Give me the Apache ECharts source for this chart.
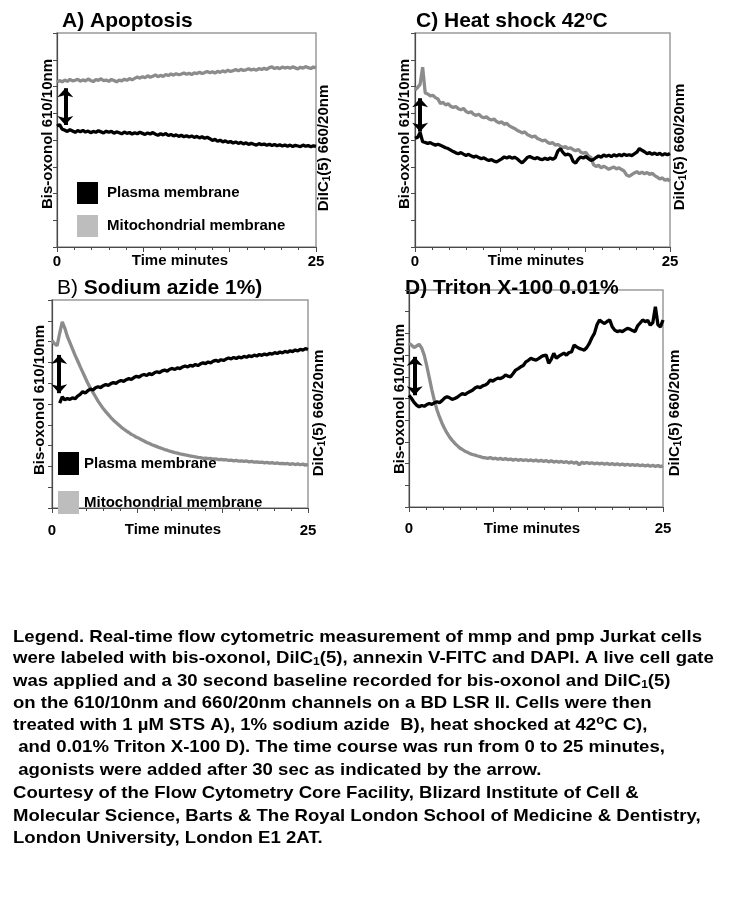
<!DOCTYPE html>
<html>
<head>
<meta charset="utf-8">
<script src="https://cdn.jsdelivr.net/npm/echarts@6/dist/echarts.min.js"></script>
<style>
html,body{margin:0;padding:0;background:#fff;}
#chart{width:736px;height:909px;}
</style>
</head>
<body>
<div id="chart"></div>
<script>
// ---------------- DATA ----------------
const SAMPLE_STEP_MIN = 0.25; // one reading every 15 s, 0..25 min
const xTickLabels = ['0', '25'];

// A) Apoptosis
const apoptosisMito = [
77.0,77.8,77.2,78.0,77.4,78.3,77.6,77.9,78.4,77.5,
78.1,77.6,78.5,77.8,77.3,78.2,77.9,78.6,77.7,78.0,
77.4,78.3,77.8,77.2,78.0,77.6,78.4,77.9,78.7,78.1,
78.8,79.4,78.9,79.6,79.1,80.0,79.3,79.8,80.4,79.6,
80.2,79.7,80.6,80.1,80.9,80.3,81.0,80.5,80.8,81.3,
80.7,81.2,80.6,81.4,81.0,81.7,81.1,81.5,82.0,81.4,
81.9,81.3,82.1,81.6,82.3,81.8,82.6,82.0,82.4,82.9,
82.3,83.0,82.5,82.8,83.3,82.7,83.1,82.6,83.4,82.9,
83.5,83.0,83.8,84.2,83.4,83.9,83.3,84.1,83.6,84.0,
83.5,84.2,83.7,83.2,84.0,83.6,84.3,83.8,83.4,84.1,83.7];
const apoptosisPlasma = [
56.5,57.2,55.0,54.6,54.0,54.8,54.2,53.6,54.4,53.9,
54.5,53.7,54.2,53.4,54.0,53.6,54.3,53.8,53.3,54.1,
53.6,54.0,53.2,53.8,53.4,52.9,53.7,53.1,53.5,52.8,
53.4,52.9,53.6,53.1,52.6,53.3,52.8,53.5,52.7,52.2,
52.9,52.4,53.0,52.1,52.6,51.9,52.4,51.7,52.2,51.5,
52.0,51.4,51.9,51.2,51.7,51.0,51.5,50.8,51.3,50.6,
49.8,50.3,49.4,49.9,49.1,49.6,48.9,49.3,48.6,49.1,
48.4,48.9,48.2,48.7,47.9,48.5,48.0,47.6,48.3,47.8,
48.1,47.5,48.0,47.4,47.9,47.3,47.8,47.2,47.7,47.1,
47.6,47.0,47.5,47.2,46.9,47.6,47.1,47.4,46.8,47.3,47.0];

// C) Heat shock 42 C
const heatMito = [
73.4,74.5,76.0,84.0,72.0,71.5,70.6,70.9,69.8,69.2,
67.0,67.6,66.4,66.9,65.8,65.2,65.7,64.6,64.1,64.8,
63.4,62.7,63.2,62.0,61.5,62.1,60.9,60.4,60.9,59.8,
59.3,59.8,58.6,58.0,58.5,57.3,57.8,56.6,56.0,55.4,
54.6,54.0,53.3,53.8,52.6,52.0,51.4,51.9,50.7,50.2,
49.6,50.0,48.9,48.4,48.8,47.6,47.9,47.1,46.5,46.9,
46.0,46.4,45.5,45.0,45.6,44.3,43.8,44.2,42.6,41.9,
38.5,37.6,38.2,37.0,37.8,37.1,36.3,36.9,37.4,36.5,
37.0,36.2,35.5,33.6,33.0,33.8,34.6,35.2,34.3,35.0,
34.2,34.8,33.9,34.5,33.4,32.6,31.8,32.3,31.2,31.7,30.8];
const heatPlasma = [
50.8,51.2,53.5,49.2,48.9,48.4,48.8,48.1,47.6,48.0,
47.5,47.0,46.4,46.0,45.3,44.6,44.0,43.6,44.1,43.4,
42.8,43.3,42.6,42.0,42.5,41.8,41.2,41.7,40.9,40.4,
40.8,40.1,39.8,40.5,41.2,42.1,41.6,42.2,41.5,41.9,
41.3,40.2,39.3,40.5,41.8,42.3,41.7,41.2,41.8,41.1,
40.8,41.5,40.9,41.6,41.0,41.7,44.8,46.0,44.2,43.0,
43.4,42.8,40.0,39.2,41.0,42.1,41.6,42.3,41.3,40.5,
40.9,41.8,42.6,41.9,43.0,42.4,42.9,42.2,43.1,42.5,
43.2,42.6,43.4,42.8,43.1,42.7,43.5,44.3,46.0,45.2,
44.5,43.6,44.1,43.3,43.9,43.2,43.8,42.9,43.6,43.1,43.7];

// B) Sodium azide 1%
const azideMito = [
80.5,79.0,78.0,84.0,89.5,86.5,82.5,79.5,76.5,73.5,
70.8,68.0,65.3,62.6,60.0,57.6,55.6,53.5,51.4,49.6,
47.8,46.3,44.9,43.5,42.2,41.1,40.0,38.9,38.0,37.1,
36.3,35.4,34.8,34.0,33.5,32.8,32.2,31.5,31.1,30.4,
30.0,29.5,29.0,28.6,28.1,27.8,27.3,27.0,26.6,26.4,
26.0,25.8,25.5,25.3,25.0,24.8,24.6,24.3,24.2,23.9,
24.0,23.7,23.8,23.5,23.6,23.3,23.4,23.1,23.2,22.9,
23.0,22.7,22.9,22.5,22.7,22.4,22.6,22.2,22.4,22.0,
22.2,21.9,22.1,21.7,21.9,21.6,21.8,21.4,21.7,21.3,
21.5,21.2,21.4,21.0,21.3,20.9,21.2,20.8,21.1,20.6,21.0];
const azidePlasma = [
null,null,null,50.4,53.4,52.0,52.6,52.2,53.0,52.5,
53.8,54.6,55.9,55.3,56.4,57.2,56.7,57.8,58.3,57.9,
58.8,59.4,58.9,59.8,60.3,59.9,60.8,61.3,60.9,61.7,
62.2,61.8,62.7,63.3,62.9,63.8,64.2,63.7,64.6,64.1,
65.0,65.5,65.1,65.9,66.3,65.8,66.7,67.1,66.6,67.4,
67.0,67.8,68.3,67.8,68.6,68.2,69.0,68.5,69.3,69.8,
69.4,70.2,69.8,70.6,71.0,70.5,71.3,70.9,71.6,72.1,
71.7,72.4,71.9,72.6,72.2,72.9,72.5,73.2,72.8,73.5,
73.1,73.8,73.4,74.0,73.6,74.3,74.0,74.7,74.3,75.0,
74.6,75.3,74.9,75.6,75.2,76.0,75.5,76.3,75.9,76.6,76.2];

// D) Triton X-100 0.01%
const tritonMito = [
75.4,74.6,73.5,74.2,75.0,73.2,70.0,65.0,59.5,54.0,
49.0,44.8,41.5,38.6,36.2,34.0,32.2,30.7,29.4,28.3,
27.2,26.5,25.7,25.2,24.6,24.2,23.9,23.5,23.2,22.8,
22.7,22.4,22.8,22.2,22.5,22.0,22.4,21.9,22.3,21.8,
22.1,21.6,22.0,21.5,21.9,21.4,21.8,21.3,21.7,21.2,
21.6,21.1,21.5,21.0,21.4,20.8,21.3,20.7,21.1,20.6,
21.0,20.5,20.9,20.3,20.8,20.2,20.7,19.4,20.6,20.1,
20.5,20.0,20.4,19.9,20.3,19.8,20.2,19.7,20.1,19.6,
20.0,19.5,19.9,19.4,19.8,19.3,19.7,19.2,19.6,19.1,
19.5,19.0,19.4,18.9,19.3,18.8,19.2,18.7,19.1,18.6,19.0];
const tritonPlasma = [
51.5,50.0,48.2,46.9,46.2,46.8,46.4,47.2,47.7,47.3,
48.0,48.5,48.1,49.0,50.2,50.8,50.3,49.6,50.0,50.6,
51.5,52.3,51.8,52.6,53.2,53.8,54.8,55.4,55.0,55.8,
56.2,57.0,58.5,58.0,58.8,59.4,59.2,59.8,60.8,60.3,
60.0,61.5,63.1,63.8,64.6,65.2,66.9,67.6,68.5,68.0,
67.7,68.4,69.2,69.8,70.0,66.2,68.0,70.8,68.5,69.5,
70.2,70.9,70.0,71.2,71.5,74.6,73.8,73.1,72.7,72.3,
73.5,75.4,78.0,80.0,84.0,86.2,85.2,84.6,85.5,86.2,
83.1,81.5,80.8,81.2,80.8,81.6,82.3,82.0,81.3,80.8,
83.5,84.8,86.2,85.4,86.0,83.8,85.0,92.3,84.0,83.0,86.2];

// agonist-addition arrows: [time (min), from value, to value]
const arrowA = [0.8, 74.2, 57.0];
const arrowB = [0.7, 73.6, 55.2];
const arrowC = [0.5, 69.5, 53.9];
const arrowD = [0.56, 69.2, 51.5];

const seriesNames = ['Plasma membrane', 'Mitochondrial membrane'];
const panelTitles = ['A) Apoptosis', 'C) Heat shock 42{sup|o}C', '{nb|B)} Sodium azide 1%)', 'D) Triton X-100 0.01%'];
const leftAxisName = 'Bis-oxonol 610/10nm';
const rightAxisName = 'DiIC{sub|1}(5) 660/20nm';
const xAxisName = 'Time minutes';
const captionLines = [
  'Legend. Real-time flow cytometric measurement of mmp and pmp Jurkat cells',
  'were labeled with bis-oxonol, DilC{sub|1}(5), annexin V-FITC and DAPI. A live cell gate',
  'was applied and a 30 second baseline recorded for bis-oxonol and DilC{sub|1}(5)',
  'on the 610/10nm and 660/20nm channels on a BD LSR II. Cells were then',
  'treated with 1 \u00b5M STS A), 1% sodium azide  B), heat shocked at 42{sup|o}C C),',
  ' and 0.01% Triton X-100 D). The time course was run from 0 to 25 minutes,',
  ' agonists were added after 30 sec as indicated by the arrow.',
  'Courtesy of the Flow Cytometry Core Facility, Blizard Institute of Cell &',
  'Molecular Science, Barts & The Royal London School of Medicine & Dentistry,',
  'London University, London E1 2AT.'
];

// ---------------- LAYOUT ----------------
const FONT = '"Liberation Sans", Arial, sans-serif';
const BLACK = '#000000';
const GREY_LINE = '#8c8c8c';
const GREY_LEGEND = '#bdbdbd';

const panels = [
  {grid:{left:57,top:33,width:259,height:214}, mito:apoptosisMito, plasma:apoptosisPlasma, arrow:arrowA, yInt:25, labelGap:7,
   title:{x:62,y:21}, leftName:{x:48,y:134}, rightName:{x:323.5,y:148}, xName:{x:180,y:261}},
  {grid:{left:415,top:33,width:255,height:214}, mito:heatMito, plasma:heatPlasma, arrow:arrowC, yInt:25, labelGap:7,
   title:{x:416,y:21}, leftName:{x:405,y:134}, rightName:{x:680,y:147}, xName:{x:536,y:261}},
  {grid:{left:52,top:300,width:256,height:208}, mito:azideMito, plasma:azidePlasma, arrow:arrowB, yInt:20, labelGap:15,
   title:{x:57,y:288}, leftName:{x:40,y:400}, rightName:{x:318.5,y:413}, xName:{x:173,y:530}},
  {grid:{left:409,top:290,width:254,height:217}, mito:tritonMito, plasma:tritonPlasma, arrow:arrowD, yInt:20, labelGap:14,
   title:{x:405,y:288}, leftName:{x:400,y:399}, rightName:{x:675,y:413}, xName:{x:532,y:529}}
];

const toPairs = arr => arr.map((v, i) => [i * SAMPLE_STEP_MIN, v]);

const richSmall = {
  sub: {fontSize: 10, fontWeight: 'bold', fontFamily: FONT, padding: [7, 0, 0, 0]},
  sup: {fontSize: 12, fontWeight: 'bold', fontFamily: FONT, padding: [0, 0, 9, 0]},
  nb: {fontSize: 21, fontWeight: 'normal', fontFamily: FONT}
};

const grids = [], xAxes = [], yAxes = [], series = [], graphics = [];
panels.forEach((p, k) => {
  grids.push(Object.assign({show: true, borderColor: '#9a9a9a', borderWidth: 1.5, backgroundColor: 'transparent'}, p.grid));
  xAxes.push({
    type: 'value', gridIndex: k, min: 0, max: 25, interval: 25 / 3,
    axisLine: {show: true, onZero: false, lineStyle: {color: '#4a4a4a', width: 1.2}},
    axisTick: {show: true, length: 5, lineStyle: {color: '#4a4a4a'}},
    minorTick: {show: true, splitNumber: 5, length: 3, lineStyle: {color: '#4a4a4a'}},
    splitLine: {show: false},
    axisLabel: {
      margin: p.labelGap, fontSize: 15, fontWeight: 'bold', color: '#000', fontFamily: FONT,
      formatter: v => (Math.abs(v) < 1e-6 ? xTickLabels[0] : (Math.abs(v - 25) < 1e-6 ? xTickLabels[1] : ''))
    }
  });
  yAxes.push({
    type: 'value', gridIndex: k, min: 0, max: 100, interval: p.yInt,
    axisLine: {show: true, onZero: false, lineStyle: {color: '#4a4a4a', width: 1.2}},
    axisTick: {show: true, length: 4, lineStyle: {color: '#4a4a4a'}},
    minorTick: {show: true, splitNumber: 2, length: 4, lineStyle: {color: '#4a4a4a'}},
    splitLine: {show: false},
    axisLabel: {show: false}
  });
  series.push({
    name: seriesNames[1], type: 'line', xAxisIndex: k, yAxisIndex: k,
    data: toPairs(p.mito), showSymbol: false, symbol: 'none', z: 2,
    lineStyle: {color: GREY_LINE, width: 3.3}, itemStyle: {color: GREY_LINE}
  });
  series.push({
    name: seriesNames[0], type: 'line', xAxisIndex: k, yAxisIndex: k,
    data: toPairs(p.plasma), showSymbol: false, symbol: 'none', connectNulls: false, z: 3,
    lineStyle: {color: BLACK, width: 3.3}, itemStyle: {color: BLACK},
    markLine: {
      silent: true, symbol: ['arrow', 'arrow'], symbolSize: [12, 9], label: {show: false},
      lineStyle: {color: BLACK, width: 4, type: 'solid'},
      data: [[{coord: [p.arrow[0], p.arrow[1]]}, {coord: [p.arrow[0], p.arrow[2]]}]]
    }
  });
  graphics.push({
    type: 'text', x: p.title.x, y: p.title.y,
    style: {text: panelTitles[k], fontSize: 21, fontWeight: 'bold', fontFamily: FONT, fill: '#000',
            align: 'left', verticalAlign: 'middle', rich: richSmall}
  });
  graphics.push({
    type: 'text', x: p.leftName.x, y: p.leftName.y, rotation: Math.PI / 2,
    style: {text: leftAxisName, fontSize: 15, fontWeight: 'bold', fontFamily: FONT, fill: '#000',
            align: 'center', verticalAlign: 'middle'}
  });
  graphics.push({
    type: 'text', x: p.rightName.x, y: p.rightName.y, rotation: Math.PI / 2,
    style: {text: rightAxisName, fontSize: 15, fontWeight: 'bold', fontFamily: FONT, fill: '#000',
            align: 'center', verticalAlign: 'middle', rich: richSmall}
  });
  graphics.push({
    type: 'text', x: p.xName.x, y: p.xName.y,
    style: {text: xAxisName, fontSize: 15, fontWeight: 'bold', fontFamily: FONT, fill: '#000',
            align: 'center', verticalAlign: 'middle'}
  });
});

// caption
const capFont = 'bold 17px "Liberation Sans"';
const mctx = document.createElement('canvas').getContext('2d');
mctx.font = capFont;
const capScale = 689 / mctx.measureText(captionLines[0]).width;
const capY = [637, 658, 681, 703, 725, 747, 770, 793, 816, 838];
captionLines.forEach((line, i) => {
  graphics.push({
    type: 'text', x: 13, y: capY[i], scaleX: capScale, scaleY: 1,
    style: {text: line, fontSize: 17, fontWeight: 'bold', fontFamily: FONT, fill: '#000',
            align: 'left', verticalAlign: 'middle',
            rich: {sub: {fontSize: 11, fontWeight: 'bold', fontFamily: FONT, padding: [7, 0, 0, 0]},
                   sup: {fontSize: 12, fontWeight: 'bold', fontFamily: FONT, padding: [0, 0, 9, 0]}}}
  });
});

const legendCommon = {
  orient: 'vertical', icon: 'rect', selectedMode: false,
  itemWidth: 21, itemHeight: 22,
  data: [{name: seriesNames[0], itemStyle: {color: BLACK}}, {name: seriesNames[1], itemStyle: {color: GREY_LEGEND}}],
  textStyle: {fontSize: 15, fontWeight: 'bold', color: '#000', fontFamily: FONT}
};
const legends = [
  Object.assign({}, legendCommon, {left: 72, top: 177, itemGap: 11, textStyle: Object.assign({}, legendCommon.textStyle, {padding: [0, 0, 0, 4]})}),
  Object.assign({}, legendCommon, {left: 53, top: 447, itemGap: 16, itemHeight: 23})
];

const chart = echarts.init(document.getElementById('chart'), null, {renderer: 'canvas', width: 736, height: 909});
chart.setOption({
  animation: false,
  backgroundColor: '#ffffff',
  grid: grids, xAxis: xAxes, yAxis: yAxes, series: series,
  legend: legends, graphic: graphics
});
</script>
</body>
</html>
